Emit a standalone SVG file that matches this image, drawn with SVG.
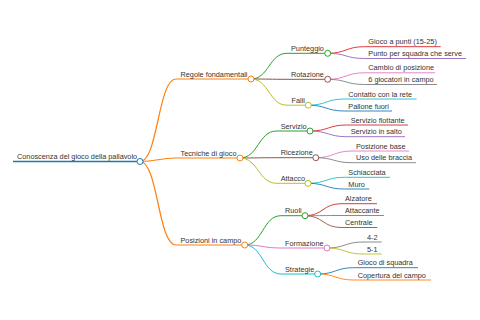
<svg xmlns="http://www.w3.org/2000/svg" width="480" height="320" viewBox="0 0 480 320">
<style>
text{font-family:"Liberation Sans",Arial,sans-serif;font-size:7.3px;fill:#333}
path{fill:none}
.l0{stroke-width:1.5}.l1{stroke-width:1.2}.l2{stroke-width:1}.l3{stroke-width:0.9}
circle{fill:#fff;stroke-width:1}
.blue{stroke:#1f77b4}.orange{stroke:#ff7f0e}.green{stroke:#2ca02c}.red{stroke:#d62728}.purple{stroke:#9467bd}.brown{stroke:#8c564b}.pink{stroke:#e377c2}.gray{stroke:#7f7f7f}.olive{stroke:#bcbd22}.cyan{stroke:#17becf}
</style>
<rect width="480" height="320" fill="#fff"/>
<g id="connectors">
<path class="l1 orange" d="M140 161.5C158 161.5 158 79 176 79"/>
<path class="l1 orange" d="M140 161.5C158 161.5 158 158 176 158"/>
<path class="l1 orange" d="M140 161.5C158 161.5 158 245 176 245"/>
<path class="l2 green" d="M251 79C269 79 269 53.3 287 53.3"/>
<path class="l2 brown" d="M251 79C269 79 269 79.3 287 79.3"/>
<path class="l2 olive" d="M251 79C269 79 269 105.2 287 105.2"/>
<path class="l2 green" d="M240 158C258.3 158 258.3 131 276.7 131"/>
<path class="l2 brown" d="M240 158C258.3 158 258.3 157.7 276.7 157.7"/>
<path class="l2 olive" d="M240 158C258.3 158 258.3 183.3 276.7 183.3"/>
<path class="l2 green" d="M244.7 245C262.8 245 262.8 215.7 281 215.7"/>
<path class="l2 pink" d="M244.7 245C262.8 245 262.8 248 281 248"/>
<path class="l2 cyan" d="M244.7 245C262.8 245 262.8 274 281 274"/>
<path class="l3 red" d="M327.7 53.3C346 53.3 346 46.7 364.3 46.7"/>
<path class="l3 purple" d="M327.7 53.3C346 53.3 346 58.5 364.3 58.5"/>
<path class="l3 pink" d="M327.7 79.3C346 79.3 346 72.8 364.3 72.8"/>
<path class="l3 gray" d="M327.7 79.3C346 79.3 346 84.5 364.3 84.5"/>
<path class="l3 cyan" d="M308.3 105.2C326.3 105.2 326.3 99 344.3 99"/>
<path class="l3 blue" d="M308.3 105.2C326.3 105.2 326.3 111 344.3 111"/>
<path class="l3 red" d="M310 131C328.3 131 328.3 125 346.7 125"/>
<path class="l3 purple" d="M310 131C328.3 131 328.3 136.7 346.7 136.7"/>
<path class="l3 pink" d="M315.8 157.7C333.9 157.7 333.9 151 352 151"/>
<path class="l3 gray" d="M315.8 157.7C333.9 157.7 333.9 162.7 352 162.7"/>
<path class="l3 cyan" d="M308 183.3C326.2 183.3 326.2 177.3 344.3 177.3"/>
<path class="l3 blue" d="M308 183.3C326.2 183.3 326.2 189 344.3 189"/>
<path class="l3 red" d="M305 215.7C323 215.7 323 203.7 341 203.7"/>
<path class="l3 purple" d="M305 215.7C323 215.7 323 215.5 341 215.5"/>
<path class="l3 brown" d="M305 215.7C323 215.7 323 227.5 341 227.5"/>
<path class="l3 gray" d="M327 248C345 248 345 242 363 242"/>
<path class="l3 olive" d="M327 248C345 248 345 254 363 254"/>
<path class="l3 blue" d="M317.7 274C335.7 274 335.7 267.7 353.7 267.7"/>
<path class="l3 orange" d="M317.7 274C335.7 274 335.7 280 353.7 280"/>
</g>
<g id="root"><path class="l0 blue" d="M13 161.5H140"/><circle class="blue" cx="140" cy="161.5" r="3"/><text x="17" y="159">Conoscenza del gioco della pallavolo</text></g>
<g id="regole"><path class="l1 orange" d="M176 79H251"/><circle class="orange" cx="251" cy="79" r="3"/><text x="180.5" y="76.5">Regole fondamentali</text></g>
<g id="tecniche"><path class="l1 orange" d="M176 158H240"/><circle class="orange" cx="240" cy="158" r="3"/><text x="180.5" y="155.5">Tecniche di gioco</text></g>
<g id="posizioni"><path class="l1 orange" d="M176 245H244.7"/><circle class="orange" cx="244.7" cy="245" r="3"/><text x="180.5" y="242.5">Posizioni in campo</text></g>
<g id="punteggio"><path class="l2 green" d="M287 53.3H327.7"/><circle class="green" cx="327.7" cy="53.3" r="3"/><text x="291" y="50.8">Punteggio</text></g>
<g id="rotazione"><path class="l2 brown" d="M287 79.3H327.7"/><circle class="brown" cx="327.7" cy="79.3" r="3"/><text x="291" y="76.8">Rotazione</text></g>
<g id="falli"><path class="l2 olive" d="M287 105.2H308.3"/><circle class="olive" cx="308.3" cy="105.2" r="3"/><text x="291.5" y="102.7">Falli</text></g>
<g id="servizio"><path class="l2 green" d="M276.7 131H310"/><circle class="green" cx="310" cy="131" r="3"/><text x="280.7" y="128.5">Servizio</text></g>
<g id="ricezione"><path class="l2 brown" d="M276.7 157.7H315.8"/><circle class="brown" cx="315.8" cy="157.7" r="3"/><text x="280.7" y="155.2">Ricezione</text></g>
<g id="attacco"><path class="l2 olive" d="M276.7 183.3H308"/><circle class="olive" cx="308" cy="183.3" r="3"/><text x="280.7" y="180.8">Attacco</text></g>
<g id="ruoli"><path class="l2 green" d="M281 215.7H305"/><circle class="green" cx="305" cy="215.7" r="3"/><text x="285" y="213.2">Ruoli</text></g>
<g id="formazione"><path class="l2 pink" d="M281 248H327"/><circle class="pink" cx="327" cy="248" r="3"/><text x="285" y="245.5">Formazione</text></g>
<g id="strategie"><path class="l2 cyan" d="M281 274H317.7"/><circle class="cyan" cx="317.7" cy="274" r="3"/><text x="285" y="271.5">Strategie</text></g>
<g id="gioco-punti"><path class="l3 red" d="M364.3 46.7H440.7"/><text x="368.3" y="44.2">Gioco a punti (15-25)</text></g>
<g id="punto-squadra"><path class="l3 purple" d="M364.3 58.5H466"/><text x="368.3" y="56">Punto per squadra che serve</text></g>
<g id="cambio"><path class="l3 pink" d="M364.3 72.8H435"/><text x="368.3" y="70.3">Cambio di posizione</text></g>
<g id="giocatori"><path class="l3 gray" d="M364.3 84.5H437"/><text x="368.3" y="82">6 giocatori in campo</text></g>
<g id="contatto"><path class="l3 cyan" d="M344.3 99H416.5"/><text x="348.3" y="96.5">Contatto con la rete</text></g>
<g id="pallone"><path class="l3 blue" d="M344.3 111H392"/><text x="348.3" y="108.5">Pallone fuori</text></g>
<g id="flottante"><path class="l3 red" d="M346.7 125H408"/><text x="350.7" y="122.5">Servizio flottante</text></g>
<g id="salto"><path class="l3 purple" d="M346.7 136.7H405"/><text x="350.7" y="134.2">Servizio in salto</text></g>
<g id="pos-base"><path class="l3 pink" d="M352 151H409"/><text x="356" y="148.5">Posizione base</text></g>
<g id="braccia"><path class="l3 gray" d="M352 162.7H416"/><text x="356" y="160.2">Uso delle braccia</text></g>
<g id="schiacciata"><path class="l3 cyan" d="M344.3 177.3H390"/><text x="348.3" y="174.8">Schiacciata</text></g>
<g id="muro"><path class="l3 blue" d="M344.3 189H369.3"/><text x="348.3" y="186.5">Muro</text></g>
<g id="alzatore"><path class="l3 red" d="M341 203.7H377"/><text x="345" y="201.2">Alzatore</text></g>
<g id="attaccante"><path class="l3 purple" d="M341 215.5H384"/><text x="345" y="213">Attaccante</text></g>
<g id="centrale"><path class="l3 brown" d="M341 227.5H377.3"/><text x="345" y="225">Centrale</text></g>
<g id="f42"><path class="l3 gray" d="M363 242H381.7"/><text x="367" y="239.5">4-2</text></g>
<g id="f51"><path class="l3 olive" d="M363 254H381.7"/><text x="367" y="251.5">5-1</text></g>
<g id="gioco-squadra"><path class="l3 blue" d="M353.7 267.7H418"/><text x="357.7" y="265.2">Gioco di squadra</text></g>
<g id="copertura"><path class="l3 orange" d="M353.7 280H431"/><text x="357.7" y="277.5">Copertura del campo</text></g>
</svg>
